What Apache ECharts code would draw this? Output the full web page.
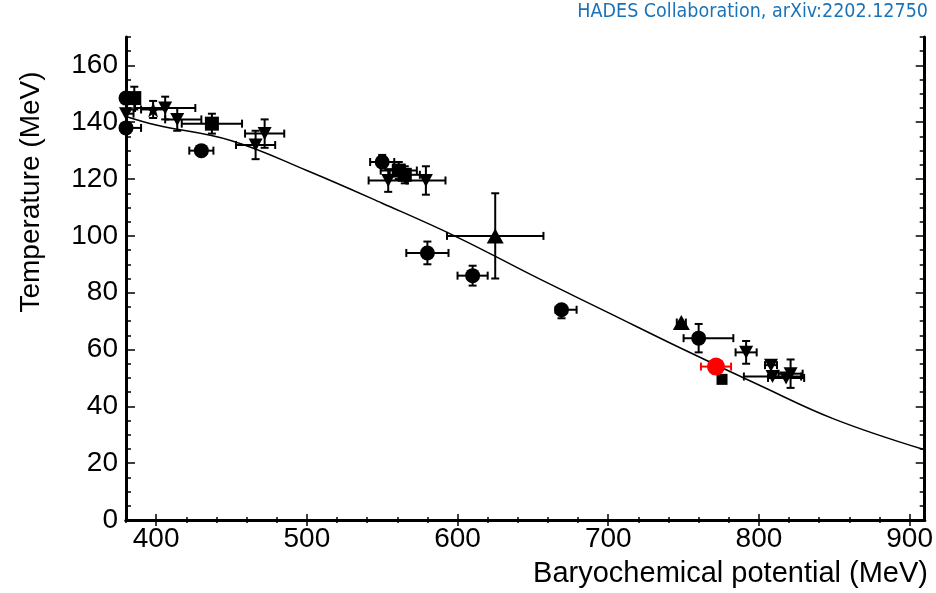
<!DOCTYPE html>
<html>
<head>
<meta charset="utf-8">
<script src="https://cdn.jsdelivr.net/npm/echarts@6/dist/echarts.min.js"></script>
<style>html,body{margin:0;padding:0;background:#fff}#c{width:936px;height:593px}</style>
</head>
<body>
<div id="c"></div>
<script>
// ---- data: [mu_B, T, xErrMinus, xErrPlus, yErrMinus, yErrPlus] ----
const circles = [
  [380, 148.5, 0, 0, 0, 0],
  [380, 138, 0, 10, 0, 0],
  [430, 130, 8, 8, 0, 0],
  [550, 126, 8, 8, 0, 2.5],
  [580, 94, 14, 14, 4, 4],
  [610, 86, 10, 10, 3.5, 3.5],
  [669, 74, 4, 10, 3, 0],
  [760, 64, 10, 23, 5, 5]
];
const hadesPoint = [[771.5, 54, 10, 10, 0, 0]];
const squares = [
  [385.5, 148.5, 0, 0, 4, 4],
  [437, 139.5, 20, 20, 3.5, 3.5],
  [561, 123, 12, 12, 3, 3],
  [565, 121.5, 10, 10, 3, 3]
];
const smallSquares = [[775.5, 49.5, 0, 0, 0, 0]];
const triUp = [
  [625, 100, 32, 32, 15, 15],
  [748.5, 69.5, 3, 3, 0, 0]
];
const triDown = [
  [380, 143, 0, 5, 0, 0],
  [406, 145, 20, 20, 4, 4],
  [414, 141, 8, 16, 4, 4],
  [472, 136, 13, 13, 5, 5],
  [466, 132, 13, 13, 5, 5],
  [554, 119.5, 13, 13, 4, 4],
  [579, 119.5, 13, 13, 5, 5],
  [791.5, 59, 7, 7, 4, 4],
  [808, 54.5, 4, 4, 0, 0],
  [809, 50.5, 19, 19, 0, 0],
  [818, 50, 12, 12, 0, 0],
  [821, 51.5, 8, 8, 5, 5]
];
const stars = [[398, 144.5, 8, 8, 3, 3]];
// freeze-out curve
const curveMu = [380, 400, 450, 500, 550, 600, 650, 700, 750, 800, 850, 910];
const curveT  = [142, 139, 133.5, 123, 111.5, 99.5, 86, 73, 60, 47.5, 35.5, 24.7];
// axis ticks
const xLabels = [400, 500, 600, 700, 800, 900];
const xMinor = [380,400,420,440,460,480,500,520,540,560,580,600,620,640,660,680,700,720,740,760,780,800,820,840,860,880,900];
const yLabels = [0, 20, 40, 60, 80, 100, 120, 140, 160];
const yMinor = [];
for (let v = 0; v <= 170; v += 5) yMinor.push(v);

const xName = 'Baryochemical potential (MeV)';
const yName = 'Temperature (MeV)';
const credit = 'HADES Collaboration, arXiv:2202.12750';

const chart = echarts.init(document.getElementById('c'), null, {renderer: 'canvas'});
const FONT = '"Liberation Sans", Arial, Helvetica, sans-serif';
const starPath = 'path://M50 0 L61.17 34.63 L97.55 34.55 L68.07 55.87 L79.39 90.45 L50 69 L20.61 90.45 L31.93 55.87 L2.45 34.55 L38.83 34.63 Z';

function errSeries(data, color) {
  return {
    type: 'custom',
    xAxisIndex: 0, yAxisIndex: 0,
    encode: {x: 0, y: 1},
    clip: false,
    z: 2,
    silent: true,
    data: data,
    renderItem: function (params, api) {
      const x = api.value(0), y = api.value(1);
      const exm = api.value(2), exp = api.value(3), eym = api.value(4), eyp = api.value(5);
      const st = {stroke: color, lineWidth: 2};
      const cap = 4;
      const ch = [];
      if (exm > 0 || exp > 0) {
        const a = api.coord([x - exm, y]), b = api.coord([x + exp, y]);
        ch.push({type: 'line', shape: {x1: a[0], y1: a[1], x2: b[0], y2: b[1]}, style: st});
        if (exm > 0) ch.push({type: 'line', shape: {x1: a[0], y1: a[1] - cap, x2: a[0], y2: a[1] + cap}, style: st});
        if (exp > 0) ch.push({type: 'line', shape: {x1: b[0], y1: b[1] - cap, x2: b[0], y2: b[1] + cap}, style: st});
      }
      if (eym > 0 || eyp > 0) {
        const a = api.coord([x, y - eym]), b = api.coord([x, y + eyp]);
        ch.push({type: 'line', shape: {x1: a[0], y1: a[1], x2: b[0], y2: b[1]}, style: st});
        if (eym > 0) ch.push({type: 'line', shape: {x1: a[0] - cap, y1: a[1], x2: a[0] + cap, y2: a[1]}, style: st});
        if (eyp > 0) ch.push({type: 'line', shape: {x1: b[0] - cap, y1: b[1], x2: b[0] + cap, y2: b[1]}, style: st});
      }
      return {type: 'group', children: ch};
    }
  };
}
function scat(data, symbol, size, color, rotate) {
  return {
    type: 'scatter', xAxisIndex: 0, yAxisIndex: 0, clip: false, z: 3,
    symbol: symbol, symbolSize: size, symbolRotate: rotate || 0,
    itemStyle: {color: color, opacity: 1},
    data: data.map(d => [d[0], d[1]])
  };
}

const line3 = {show: true, lineStyle: {color: '#000', width: 3}};
function xAx(pos, ticks, len, labels, showLine) {
  return {
    type: 'value', position: pos, min: 380, max: 910,
    axisLine: showLine ? line3 : {show: false},
    splitLine: {show: false},
    axisTick: {show: true, inside: true, length: len, customValues: ticks, lineStyle: {color: '#000', width: 1.5}},
    axisLabel: labels ? {show: true, customValues: labels, color: '#000', fontSize: 28, fontFamily: FONT, margin: 5} : {show: false}
  };
}
function yAx(pos, ticks, len, labels, showLine) {
  return {
    type: 'value', position: pos, min: 0, max: 170,
    axisLine: showLine ? line3 : {show: false},
    splitLine: {show: false},
    axisTick: {show: true, inside: true, length: len, customValues: ticks, lineStyle: {color: '#000', width: 1.5}},
    axisLabel: labels ? {show: true, customValues: labels, color: '#000', fontSize: 28, fontFamily: FONT, margin: 8} : {show: false}
  };
}

chart.setOption({
  animation: false,
  backgroundColor: '#fff',
  grid: {left: 126, right: 8, top: 37, bottom: 73, containLabel: false},
  xAxis: [
    xAx('bottom', xLabels, 6, xLabels, true),
    xAx('bottom', xMinor, 3, null, false),
    xAx('top', xLabels, 6, null, true),
    xAx('top', xMinor, 3, null, false)
  ],
  yAxis: [
    yAx('left', yLabels, 9, yLabels, true),
    yAx('left', yMinor, 5, null, false),
    yAx('right', yLabels, 9, null, true),
    yAx('right', yMinor, 5, null, false)
  ],
  graphic: [
    {type: 'text', right: 8, top: 2, style: {text: credit, fill: '#1a73b8', font: '19.5px "Liberation Sans Narrow", "DejaVu Sans Condensed", "Roboto", sans-serif'}},
    {type: 'text', right: 8, top: 559, style: {text: xName, fill: '#000', font: '29px ' + FONT}},
    {type: 'text', x: 31, y: 192, rotation: Math.PI / 2, style: {text: yName, fill: '#000', font: '28px ' + FONT, textAlign: 'center', textVerticalAlign: 'middle'}}
  ],
  series: [
    {
      type: 'line', xAxisIndex: 0, yAxisIndex: 0, smooth: 0.4, showSymbol: false, z: 1,
      lineStyle: {color: '#000', width: 1.5}, silent: true,
      data: curveMu.map((m, i) => [m, curveT[i]])
    },
    errSeries(circles, '#000'),
    errSeries(squares, '#000'),
    errSeries(triUp, '#000'),
    errSeries(triDown, '#000'),
    errSeries(stars, '#000'),
    errSeries(hadesPoint, '#ff0000'),
    scat(circles, 'circle', 15, '#000'),
    scat(squares, 'rect', 14, '#000'),
    scat(smallSquares, 'rect', 11, '#000'),
    scat(triUp, 'triangle', [17, 15], '#000'),
    scat(triDown, 'triangle', [14, 13], '#000', 180),
    scat(stars, starPath, 16, '#000'),
    scat(hadesPoint, 'circle', 18, '#ff0000')
  ]
});
</script>
</body>
</html>
